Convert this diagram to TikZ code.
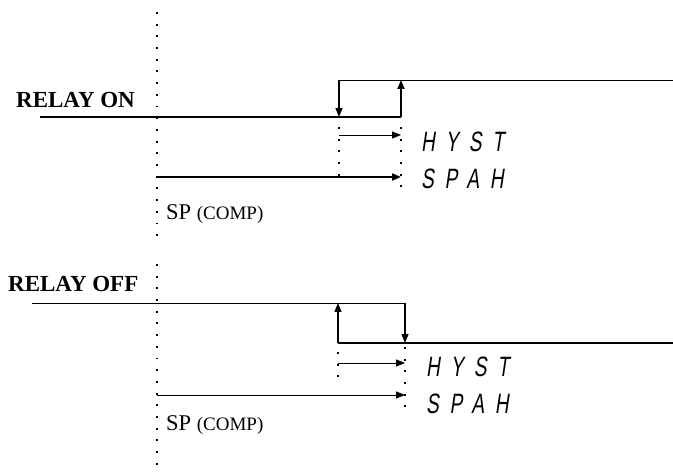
\documentclass[tikz,border=0pt]{standalone}
\usepackage{fontspec}
\setmainfont{Liberation Serif}
\newfontfamily\segfont[FakeSlant=0.15,FakeStretch=0.68,LetterSpace=38]{Liberation Sans}
\usetikzlibrary{arrows.meta}
\begin{document}
\begin{tikzpicture}[x=1pt, y=-1pt,
    sig/.style={line width=1.4pt},
    thin/.style={line width=0.9pt},
    tip/.style={-{Triangle[length=9pt,width=7pt]}},
    dotline/.style={line width=1.9pt, dash pattern=on 1.9pt off 9.8pt},
    relay/.style={anchor=base west, inner sep=0pt, font=\fontsize{23}{25}\selectfont\bfseries},
    seg/.style={anchor=west, inner sep=0pt, font=\segfont\fontsize{28}{30}\selectfont},
    sp/.style={anchor=base west, inner sep=0pt, font=\fontsize{22.5}{24}\selectfont}
]
    \useasboundingbox (0,0) rectangle (673,473);

    \coordinate (t0top) at (157,12);
    \coordinate (t0bot) at (157,240);
    \draw[dotline] (t0top) -- (t0bot);
    \node[relay] (relon) at (16,108) {RELAY ON};
    \coordinate (onlo) at (40,117);
    \coordinate (onsw1) at (339,117);
    \coordinate (onsw2) at (401,117);
    \coordinate (onhi1) at (339,80);
    \coordinate (onhi2) at (401,80);
    \coordinate (onhi) at (673,80);
    \draw[sig] (onlo) -- (onsw2);
    \draw[thin] (onhi1) -- (onhi);
    \draw[sig, tip] (onhi1) -- (onsw1);
    \draw[sig, line width=1.9pt, tip] (onsw2) -- (onhi2);
    \coordinate (ond1a) at (339,127);
    \coordinate (ond1b) at (339,177);
    \coordinate (ond2a) at (401,127);
    \coordinate (ond2b) at (401,192);
    \draw[dotline] (ond1a) -- (ond1b);
    \draw[dotline] (ond2a) -- (ond2b);
    \coordinate (onhys1) at (339,135);
    \coordinate (onhys2) at (401,135);
    \draw[thin, tip] (onhys1) -- (onhys2);
    \coordinate (onsp1) at (157,177);
    \coordinate (onsp2) at (401,177);
    \draw[line width=2pt, tip] (onsp1) -- (onsp2);
    \node[seg] (onhyst) at (421,142) {HYST};
    \node[seg] (onspah) at (421,179) {SPAH};
    \node[sp] (oncomp) at (166,220) {SP {\fontsize{19}{21}\selectfont(COMP)}};

    \coordinate (t1top) at (157,264);
    \coordinate (t1bot) at (157,466);
    \draw[dotline] (t1top) -- (t1bot);
    \node[relay] (reloff) at (8,292) {RELAY OFF};
    \coordinate (offhi) at (32,303);
    \coordinate (offsw1) at (338,303);
    \coordinate (offsw2) at (405,303);
    \coordinate (offlo1) at (338,343);
    \coordinate (offlo2) at (405,343);
    \coordinate (offlo) at (673,343);
    \draw[thin] (offhi) -- (offsw2);
    \draw[sig] (offlo1) -- (offlo);
    \draw[sig, tip] (offlo1) -- (offsw1);
    \draw[sig, tip] (offsw2) -- (offlo2);
    \coordinate (offd1a) at (338,352);
    \coordinate (offd1b) at (338,380);
    \coordinate (offd2a) at (405,347);
    \coordinate (offd2b) at (405,416);
    \draw[dotline] (offd1a) -- (offd1b);
    \draw[dotline] (offd2a) -- (offd2b);
    \coordinate (offhys1) at (338,363);
    \coordinate (offhys2) at (405,363);
    \draw[thin, tip] (offhys1) -- (offhys2);
    \coordinate (offsp1) at (157,395);
    \coordinate (offsp2) at (405,395);
    \draw[thin, tip] (offsp1) -- (offsp2);
    \node[seg] (offhyst) at (426,367) {HYST};
    \node[seg] (offspah) at (426,404) {SPAH};
    \node[sp] (offcomp) at (166,431) {SP {\fontsize{19}{21}\selectfont(COMP)}};
\end{tikzpicture}
\end{document}
